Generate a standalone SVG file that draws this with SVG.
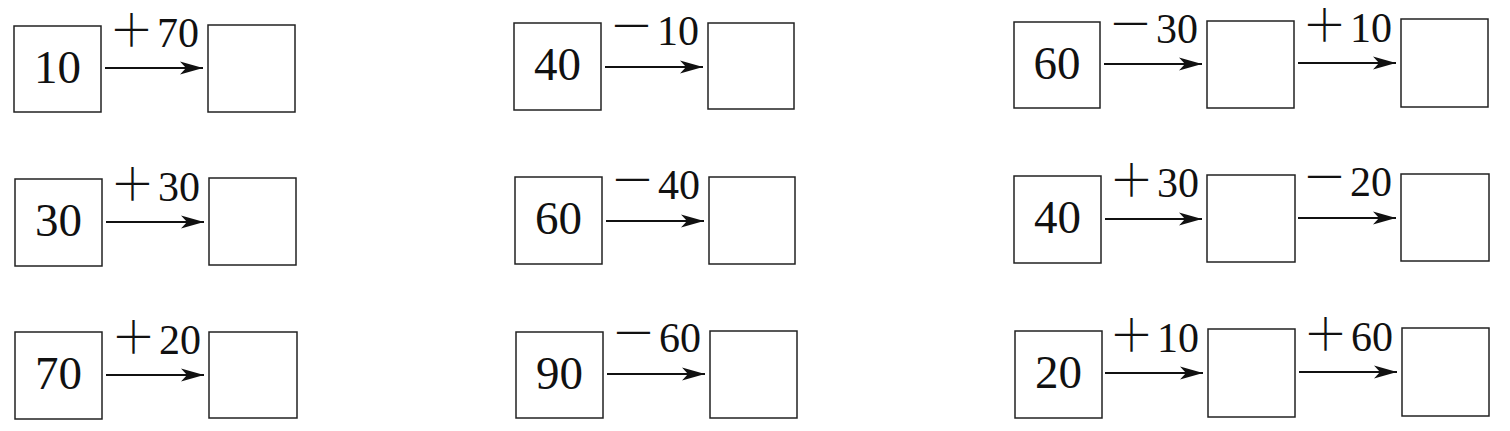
<svg xmlns="http://www.w3.org/2000/svg" width="1510" height="431" viewBox="0 0 1510 431">
<style>
.box{fill:none;stroke:#222;stroke-width:1.5}
.num{font-family:"Liberation Serif","Noto Serif",serif;font-size:47px;fill:#111;text-anchor:middle}
.lbl{font-family:"Liberation Serif",serif;font-size:42px;fill:#111;text-anchor:end}
.op{font-family:"Noto Sans CJK SC","Liberation Sans",sans-serif;font-size:45px;font-weight:200}
.arr{stroke:#111;stroke-width:1.8;fill:none;marker-end:url(#ah)}
</style>
<defs>
<marker id="ah" markerUnits="userSpaceOnUse" markerWidth="25" markerHeight="16" refX="23" refY="8" orient="auto">
<path d="M0,1.5 L23,8 L0,14.5 L6,8 Z" fill="#111"/>
</marker>
</defs>
<rect width="1510" height="431" fill="#fff"/>
<g id="r1c1a"><rect class="box" x="14" y="26" width="87" height="86"/><text class="num" x="57.5" y="83">10</text></g>
<g id="r1c1b"><rect class="box" x="208" y="25" width="87" height="87"/></g>
<g id="r1c2a"><rect class="box" x="514" y="23" width="87" height="87"/><text class="num" x="557.5" y="80">40</text></g>
<g id="r1c2b"><rect class="box" x="708" y="23" width="86" height="86"/></g>
<g id="r1c3a"><rect class="box" x="1014" y="22" width="86" height="86"/><text class="num" x="1057" y="79">60</text></g>
<g id="r1c3b"><rect class="box" x="1207" y="21" width="87" height="87"/></g>
<g id="r1c3c"><rect class="box" x="1401" y="19" width="87" height="88"/></g>
<g id="r2c1a"><rect class="box" x="15" y="179" width="87" height="87"/><text class="num" x="58.5" y="236">30</text></g>
<g id="r2c1b"><rect class="box" x="209" y="178" width="87" height="87"/></g>
<g id="r2c2a"><rect class="box" x="515" y="177" width="87" height="87"/><text class="num" x="558.5" y="234">60</text></g>
<g id="r2c2b"><rect class="box" x="709" y="177" width="86" height="87"/></g>
<g id="r2c3a"><rect class="box" x="1014" y="176" width="87" height="87"/><text class="num" x="1057.5" y="233">40</text></g>
<g id="r2c3b"><rect class="box" x="1207" y="175" width="88" height="87"/></g>
<g id="r2c3c"><rect class="box" x="1401" y="174" width="88" height="87"/></g>
<g id="r3c1a"><rect class="box" x="15" y="332" width="87" height="87"/><text class="num" x="58.5" y="389">70</text></g>
<g id="r3c1b"><rect class="box" x="209" y="332" width="88" height="86"/></g>
<g id="r3c2a"><rect class="box" x="516" y="332" width="87" height="86"/><text class="num" x="559.5" y="389">90</text></g>
<g id="r3c2b"><rect class="box" x="710" y="331" width="87" height="87"/></g>
<g id="r3c3a"><rect class="box" x="1015" y="331" width="87" height="87"/><text class="num" x="1058.5" y="388">20</text></g>
<g id="r3c3b"><rect class="box" x="1208" y="329" width="87" height="88"/></g>
<g id="r3c3c"><rect class="box" x="1402" y="328" width="87" height="88"/></g>
<g id="connectors">
<line class="arr" x1="105" y1="68" x2="203" y2="68"/><text class="lbl" x="199" y="47"><tspan class="op">＋</tspan><tspan dx="3">70</tspan></text>
<line class="arr" x1="605" y1="67" x2="703" y2="67"/><text class="lbl" x="699" y="45"><tspan class="op" dy="-2">－</tspan><tspan dx="3" dy="2">10</tspan></text>
<line class="arr" x1="1104" y1="64" x2="1202" y2="64"/><text class="lbl" x="1198" y="43"><tspan class="op" dy="-2">－</tspan><tspan dx="3" dy="2">30</tspan></text>
<line class="arr" x1="1298" y1="63" x2="1396" y2="63"/><text class="lbl" x="1392" y="42"><tspan class="op">＋</tspan><tspan dx="3">10</tspan></text>
<line class="arr" x1="106" y1="222" x2="204" y2="222"/><text class="lbl" x="200" y="201"><tspan class="op">＋</tspan><tspan dx="3">30</tspan></text>
<line class="arr" x1="606" y1="221" x2="704" y2="221"/><text class="lbl" x="700" y="199"><tspan class="op" dy="-2">－</tspan><tspan dx="3" dy="2">40</tspan></text>
<line class="arr" x1="1105" y1="219" x2="1202" y2="219"/><text class="lbl" x="1199" y="197"><tspan class="op">＋</tspan><tspan dx="3">30</tspan></text>
<line class="arr" x1="1298" y1="218" x2="1396" y2="218"/><text class="lbl" x="1392" y="196"><tspan class="op" dy="-2">－</tspan><tspan dx="3" dy="2">20</tspan></text>
<line class="arr" x1="106" y1="375" x2="204" y2="375"/><text class="lbl" x="201" y="354"><tspan class="op">＋</tspan><tspan dx="3">20</tspan></text>
<line class="arr" x1="607" y1="374" x2="705" y2="374"/><text class="lbl" x="701" y="352"><tspan class="op" dy="-2">－</tspan><tspan dx="3" dy="2">60</tspan></text>
<line class="arr" x1="1105" y1="373" x2="1203" y2="373"/><text class="lbl" x="1199" y="352"><tspan class="op">＋</tspan><tspan dx="3">10</tspan></text>
<line class="arr" x1="1299" y1="372" x2="1397" y2="372"/><text class="lbl" x="1393" y="351"><tspan class="op">＋</tspan><tspan dx="3">60</tspan></text>
</g>
</svg>
